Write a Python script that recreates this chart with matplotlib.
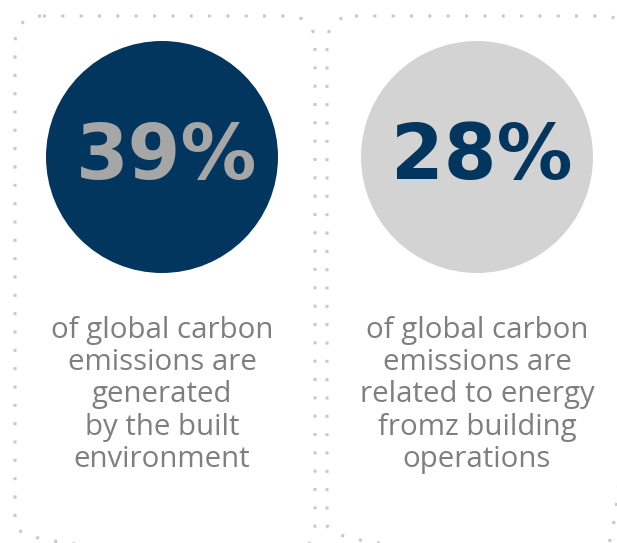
import matplotlib
matplotlib.use("Agg")
import matplotlib.pyplot as plt
from matplotlib.patches import FancyBboxPatch, Circle

# Data
values = [39, 28]
captions = [
    "of global carbon\nemissions are\ngenerated\nby the built\nenvironment",
    "of global carbon\nemissions are\nrelated to energy\nfromz building\noperations",
]
circle_colors = ["#03365F", "#D3D3D3"]
number_colors = ["#A6A6A6", "#03365F"]

W, H = 617, 543
fig = plt.figure(figsize=(W / 100, H / 100), dpi=100)
ax = fig.add_axes([0, 0, 1, 1])
ax.set_xlim(0, W)
ax.set_ylim(H, 0)
ax.set_aspect("equal")
ax.axis("off")

boxes = [(15, 16, 300, 536), (327, 16, 303, 536)]
centers_x = [162, 477]
cy, r = 157, 116

for i, v in enumerate(values):
    bx, by, bw, bh = boxes[i]
    box = FancyBboxPatch((bx, by), bw, bh,
                         boxstyle="round,pad=0,rounding_size=28",
                         fill=False, edgecolor="#C9C9C9", linewidth=2.2,
                         linestyle=(0, (1, 5)), capstyle="butt")
    ax.add_patch(box)
    ax.add_patch(Circle((centers_x[i], cy), r, color=circle_colors[i], lw=0))
    ax.text(centers_x[i] + 5, cy + 1, f"{v}%", ha="center", va="center",
            fontsize=54.5, fontweight="bold", family="DejaVu Sans",
            color=number_colors[i])
    ax.text(centers_x[i], 316, captions[i], ha="center", va="top",
            fontsize=21.2, family="Open Sans", color="#7F7F7F",
            linespacing=1.145)

fig.savefig("out.png", dpi=100)
